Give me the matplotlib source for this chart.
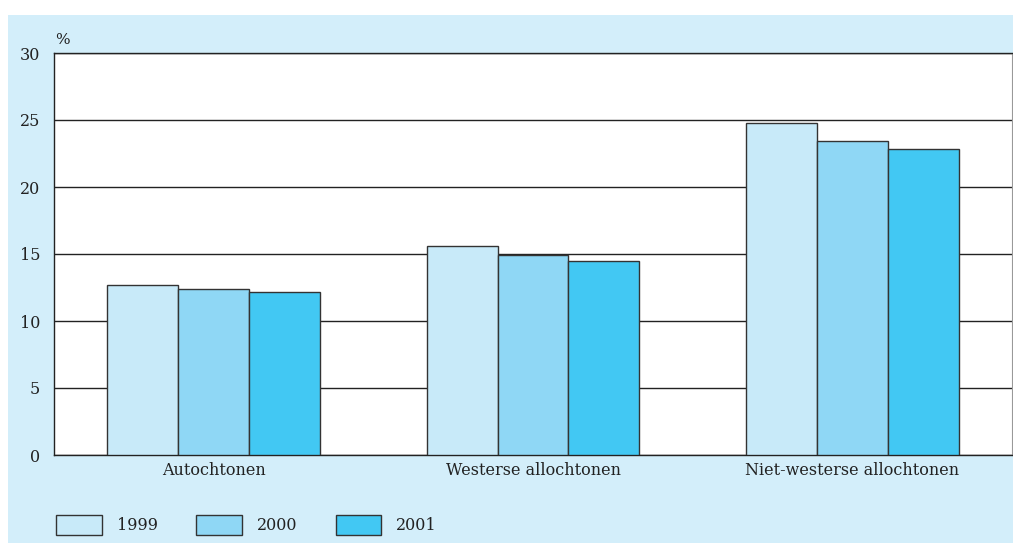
import matplotlib
matplotlib.use("Agg")
import matplotlib.pyplot as plt
from matplotlib.patches import Rectangle, Patch
import numpy as np

categories = ["Autochtonen", "Westerse allochtonen", "Niet-westerse allochtonen"]
years = ["1999", "2000", "2001"]
values_1999 = [12.7, 15.6, 24.8]
values_2000 = [12.4, 14.9, 23.45]
values_2001 = [12.2, 14.5, 22.8]
yticks = [0, 5, 10, 15, 20, 25, 30]

colors = ["#c8eaf9", "#8fd7f5", "#42c8f3"]
bg = "#d3eefa"

plt.rcParams["font.family"] = ["DejaVu Serif"]
FS = 11.5

fig = plt.figure(figsize=(10.13, 5.43), dpi=100, facecolor="white")
fig.add_artist(Rectangle((8/1013, 0), 1 - 8/1013, 1 - 15/543, transform=fig.transFigure,
                         facecolor=bg, edgecolor="none", zorder=-10))

ax = fig.add_axes([54/1013, 1 - 455/543, (1012 - 54)/1013, (455 - 53)/543])
ax.set_facecolor("white")

x = np.arange(len(categories))
w = 0.222
series = [values_1999, values_2000, values_2001]
for i, (vals, c, yr) in enumerate(zip(series, colors, years)):
    ax.bar(x + (i - 1) * w, vals, width=w, color=c, edgecolor="#333333",
           linewidth=1.0, label=yr, zorder=3)

ax.set_xlim(-0.5, 2.5)
ax.set_ylim(0, 30)
ax.set_yticks(yticks)
ax.set_yticklabels([str(t) for t in yticks], fontsize=FS, color="#222222")
ax.set_xticks(x)
ax.set_xticklabels(categories, fontsize=FS, color="#222222")
ax.tick_params(axis="both", length=0)
ax.tick_params(axis="y", pad=10)
ax.tick_params(axis="x", pad=5)
ax.yaxis.grid(True, color="#222222", linewidth=1.0, zorder=0)
ax.set_axisbelow(True)
for s in ["left", "bottom", "top"]:
    ax.spines[s].set_color("#222222")
    ax.spines[s].set_linewidth(1.0)
ax.spines["right"].set_color("#999999")

fig.text(55/1013, 1 - 40/543, "%", fontsize=11, color="#222222", ha="left", va="center")

handles = [Patch(facecolor=c, edgecolor="#333333", linewidth=1.0) for c in colors]
leg = fig.legend(handles, years, loc="center left", bbox_to_anchor=(56/1013, 1 - 525/543),
                 ncol=3, frameon=False, fontsize=FS, handlelength=2.85, handleheight=1.5,
                 handletextpad=0.95, columnspacing=2.4, borderaxespad=0, borderpad=0)
for t in leg.get_texts():
    t.set_color("#222222")

fig.savefig("out.png", dpi=100, facecolor="white")
